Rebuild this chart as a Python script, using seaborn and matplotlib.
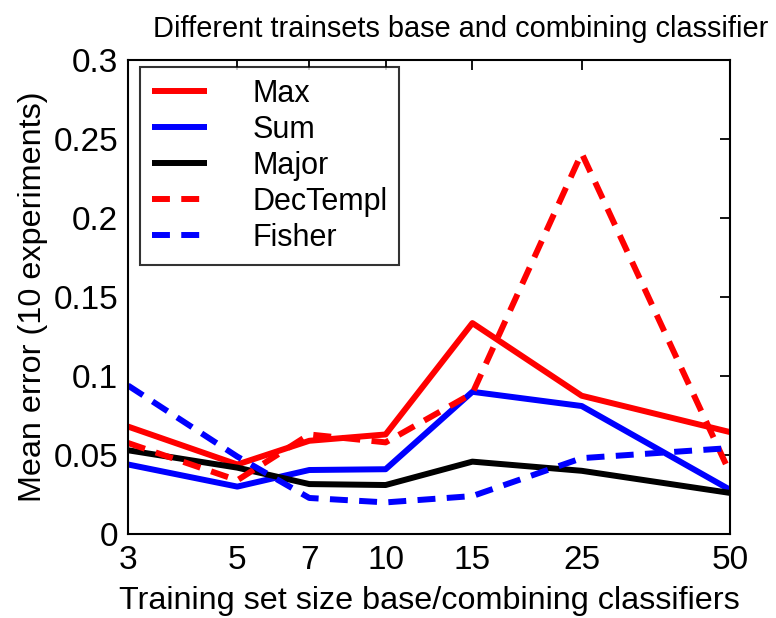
import matplotlib
matplotlib.use("Agg")
import matplotlib.pyplot as plt
import seaborn as sns
import pandas as pd
from matplotlib.ticker import FixedLocator, FixedFormatter, NullLocator

sizes = [3, 5, 7, 10, 15, 25, 50]
max_err = [0.068, 0.044, 0.059, 0.063, 0.1335, 0.0875, 0.0645]
sum_err = [0.044, 0.030, 0.0405, 0.041, 0.090, 0.081, 0.028]
major_err = [0.053, 0.042, 0.0316, 0.031, 0.0458, 0.040, 0.026]
dectempl_err = [0.0576, 0.034, 0.063, 0.058, 0.089, 0.241, 0.0386]
fisher_err = [0.094, 0.049, 0.0228, 0.020, 0.024, 0.048, 0.0544]

names = ["Max", "Sum", "Major", "DecTempl", "Fisher"]
series = [max_err, sum_err, major_err, dectempl_err, fisher_err]
colors = ["#ff0000", "#0000ff", "#000000", "#ff0000", "#0000ff"]
dashed = [False, False, False, True, True]

sns.set_theme(style="white")
plt.rcParams["font.family"] = ["Liberation Sans", "DejaVu Sans"]
plt.rcParams["text.color"] = "black"

LW = 4.3
fig = plt.figure(figsize=(7.76, 6.18), dpi=100)
ax = fig.add_axes([128 / 776, 1 - 534 / 618, (730 - 128) / 776, (534 - 60) / 618])

for name, vals, col, d in zip(names, series, colors, dashed):
    df = pd.DataFrame({"size": sizes, "err": vals})
    sns.lineplot(data=df, x="size", y="err", ax=ax, color=col, lw=LW,
                 label=name, dashes=False)
    line = ax.lines[-1]
    if d:
        line.set_dashes([3.0, 1.9])
    line.set_solid_capstyle("butt")
    line.set_dash_capstyle("butt")

ax.set_xscale("log")
ax.set_xlim(3, 50)
ax.set_ylim(0, 0.3)
ax.xaxis.set_major_locator(FixedLocator(sizes))
ax.xaxis.set_major_formatter(FixedFormatter([str(s) for s in sizes]))
ax.xaxis.set_minor_locator(NullLocator())
ax.set_yticks([0, 0.05, 0.1, 0.15, 0.2, 0.25, 0.3])
ax.set_yticklabels(["0", "0.05", "0.1", "0.15", "0.2", "0.25", "0.3"])
ax.tick_params(direction="in", length=7, width=1.3, top=True, right=True,
               labelsize=24, colors="black", pad=7)
ax.tick_params(axis="x", pad=8)
for s in ax.spines.values():
    s.set_visible(True)
    s.set_color("black")
    s.set_linewidth(1.5)

ax.set_xlabel("Training set size base/combining classifiers", fontsize=23.3, color="black", labelpad=7)
ax.set_ylabel("Mean error (10 experiments)", fontsize=23.3, color="black", labelpad=4)
fig.text(153 / 776, 1 - 29 / 618, "Different trainsets base and combining classifier",
         fontsize=20.9, ha="left", va="center", color="black")

leg = ax.legend(loc="upper left", bbox_to_anchor=(12 / 602, 1 - 7 / 474), fontsize=22,
                frameon=True, fancybox=False, handlelength=1.8, handletextpad=1.5,
                borderpad=0.38, labelspacing=0.2, borderaxespad=0)
leg.get_frame().set_edgecolor("black")
leg.get_frame().set_linewidth(1.5)
for h in leg.get_lines():
    h.set_linewidth(LW)
for t in leg.get_texts():
    t.set_color("black")

fig.savefig("out.png", dpi=100, facecolor="white")
